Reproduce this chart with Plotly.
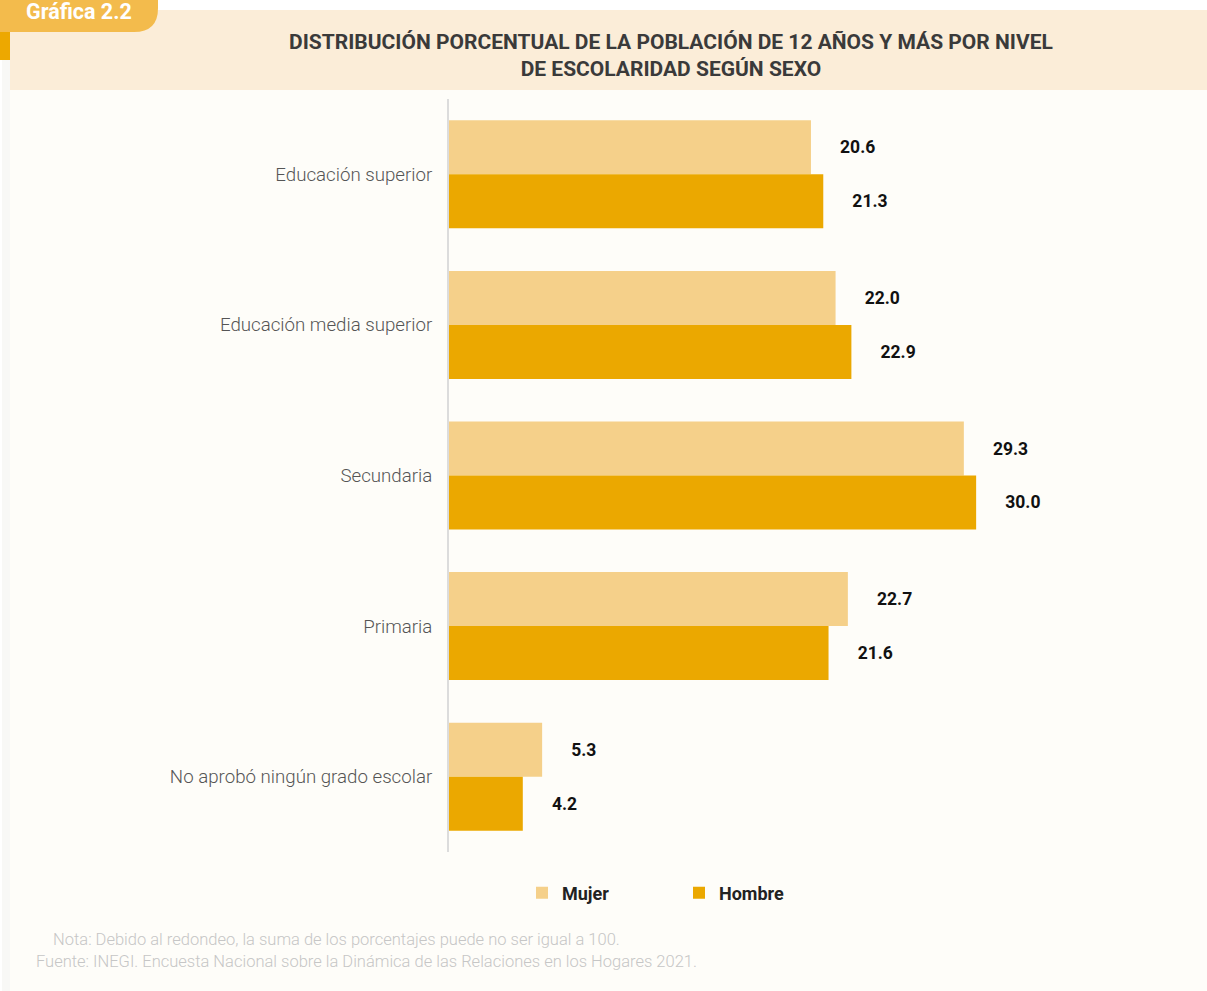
import plotly.graph_objects as go

categories = ["Educación superior", "Educación media superior", "Secundaria",
              "Primaria", "No aprobó ningún grado escolar"]
mujer = [20.6, 22.0, 29.3, 22.7, 5.3]
hombre = [21.3, 22.9, 30.0, 21.6, 4.2]
series_names = ["Mujer", "Hombre"]

W, H = 1207, 991
ML, MR, MT, MB = 449, 20, 99, 139
PW, PH = W - ML - MR, H - MT - MB


def px(x):
    return (x - ML) / PW


def py(y):
    return (H - MB - y) / PH


C_MUJER = "#F5D08A"
C_HOMBRE = "#EBA800"
PAD = "\u00a0" * 6
VAL_FONT = dict(family="Roboto", size=17.5, color="#111111", weight="bold")

fig = go.Figure()
fig.add_trace(go.Bar(
    y=categories, x=mujer, name=series_names[0], orientation="h",
    marker=dict(color=C_MUJER, line=dict(width=0)),
    texttemplate=PAD + "%{x:.1f}", textposition="outside", textfont=VAL_FONT,
    cliponaxis=False, hoverinfo="skip",
))
fig.add_trace(go.Bar(
    y=categories, x=hombre, name=series_names[1], orientation="h",
    marker=dict(color=C_HOMBRE, line=dict(width=0)),
    texttemplate=PAD + "%{x:.1f}", textposition="outside", textfont=VAL_FONT,
    cliponaxis=False, hoverinfo="skip",
))

shapes = [
    # left shadow strip
    dict(type="rect", xref="paper", yref="paper", x0=px(2), x1=px(10), y0=py(60), y1=py(991),
         fillcolor="#F8F8F6", line=dict(width=0), layer="below"),
    # card
    dict(type="rect", xref="paper", yref="paper", x0=px(10), x1=px(1207), y0=py(10), y1=py(991),
         fillcolor="#FEFDF9", line=dict(width=0), layer="below"),
    # header band
    dict(type="rect", xref="paper", yref="paper", x0=px(10), x1=px(1207), y0=py(10), y1=py(90),
         fillcolor="#FBEDD8", line=dict(width=0), layer="below"),
    # dark orange strip
    dict(type="rect", xref="paper", yref="paper", x0=px(0), x1=px(10), y0=py(32), y1=py(60),
         fillcolor="#EDA800", line=dict(width=0), layer="below"),
    # tab with rounded bottom-right corner (pixel path anchored at top-left of page)
    dict(type="path", xref="paper", yref="paper", xsizemode="pixel", ysizemode="pixel",
         xanchor=px(0), yanchor=py(0),
         path="M0,0 L158,0 L158,-8 Q158,-32 134,-32 L0,-32 Z",
         fillcolor="#F3BB4C", line=dict(width=0), layer="below"),
]

annotations = [
    dict(text="Gráfica 2.2", xref="paper", yref="paper", x=px(24), y=py(11),
         xanchor="left", yanchor="middle", showarrow=False,
         font=dict(family="Roboto", size=21.5, color="#FFFFFF", weight="bold")),
    dict(text="DISTRIBUCIÓN PORCENTUAL DE LA POBLACIÓN DE 12 AÑOS Y MÁS POR NIVEL<br>DE ESCOLARIDAD SEGÚN SEXO",
         xref="paper", yref="paper", x=px(671), y=py(55), xanchor="center", yanchor="middle",
         showarrow=False, align="center",
         font=dict(family="Roboto", size=21, color="#3A3A3A", weight="bold")),
    dict(text="Nota: Debido al redondeo, la suma de los porcentajes puede no ser igual a 100.",
         xref="paper", yref="paper", x=px(51), y=py(940), xanchor="left", yanchor="middle",
         showarrow=False, font=dict(family="Roboto", size=16.5, color="#C6C6C6", weight=300)),
    dict(text="Fuente: INEGI. Encuesta Nacional sobre la Dinámica de las Relaciones en los Hogares 2021.",
         xref="paper", yref="paper", x=px(34), y=py(961), xanchor="left", yanchor="middle",
         showarrow=False, font=dict(family="Roboto", size=16.5, color="#C6C6C6", weight=300)),
]

fig.update_layout(
    width=W, height=H,
    margin=dict(l=ML, r=MR, t=MT, b=MB, pad=0),
    paper_bgcolor="#FFFFFF", plot_bgcolor="rgba(0,0,0,0)",
    barmode="group", bargap=0.283, bargroupgap=0,
    shapes=shapes, annotations=annotations,
    showlegend=True,
    legend=dict(orientation="h", x=px(522), y=py(893), xanchor="left", yanchor="middle",
                bgcolor="rgba(0,0,0,0)", entrywidth=112, entrywidthmode="pixels",
                font=dict(family="Roboto", size=18, color="#222222", weight="bold"),
                itemclick=False, itemdoubleclick=False),
    xaxis=dict(range=[0, 42], visible=False, showgrid=False, zeroline=False, fixedrange=True),
    yaxis=dict(autorange="reversed", showline=True, linecolor="#DCDCDC", linewidth=2,
               ticks="", showgrid=False, ticklabelstandoff=11, fixedrange=True,
               tickfont=dict(family="Roboto", size=18.7, color="#555555", weight=300)),
)

fig.write_html("out.html")
